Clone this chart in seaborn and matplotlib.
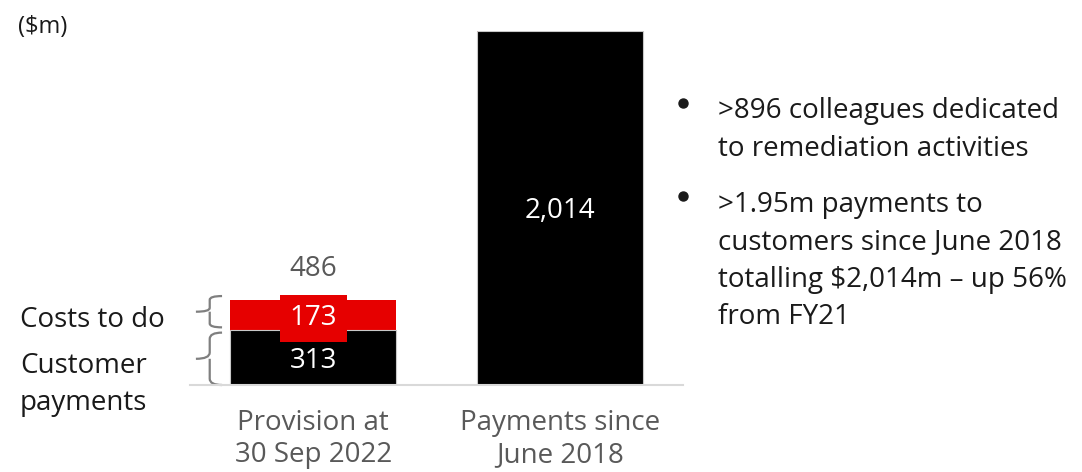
"""Remediation provision vs payments, stacked bar with commentary."""

import matplotlib.pyplot as plt
import matplotlib.transforms as mtransforms
from matplotlib.lines import Line2D
from matplotlib.path import Path
from matplotlib.patches import PathPatch
import pandas as pd
import seaborn as sns

categories = ["Provision at\n30 Sep 2022", "Payments since\nJune 2018"]
customer_payments = [313, 2014]
costs_to_do = [173, 0]
segment_names = ["Costs to do", "Customer", "payments"]
unit_label = "($m)"
bullet_one = [">896 colleagues dedicated", "to remediation activities"]
bullet_two = [">1.95m payments to", "customers since June 2018",
              "totalling $2,014m \u2013 up 56%", "from FY21"]

RED = "#e60000"
BLACK = "#000000"
GREY_TEXT = "#595959"
DARK_TEXT = "#1a1a1a"

W, H = 1082, 472

sns.set_theme(style="white")
plt.rcParams["font.family"] = ["Open Sans", "DejaVu Sans"]

df = pd.DataFrame({
    "category": categories,
    "bottom": customer_payments,
    "top": costs_to_do,
})
df["total"] = df["bottom"] + df["top"]

fig = plt.figure(figsize=(W / 100, H / 100), dpi=100)
ax = fig.add_axes([190 / W, 1 - 385 / H, 493 / W, 354 / H])

sns.barplot(data=df, x="category", y="total", color=RED, width=0.675,
            saturation=1, ax=ax, linewidth=0)
sns.barplot(data=df, x="category", y="bottom", color=BLACK, width=0.675,
            saturation=1, ax=ax, edgecolor="#c8c8c8", linewidth=0.8)

ax.set_xlim(-0.5, 1.5)
ax.set_ylim(0, df["total"].max())
ax.set_xlabel("")
ax.set_ylabel("")
ax.set_yticks([])
for side in ["top", "right", "left"]:
    ax.spines[side].set_visible(False)
ax.spines["bottom"].set_color("#d9d9d9")
ax.spines["bottom"].set_linewidth(1.5)
ax.tick_params(axis="x", length=0, pad=17, labelsize=20, labelcolor=GREY_TEXT)
for lbl in ax.get_xticklabels():
    lbl.set_linespacing(1.22)

# value labels
for i, row in df.iterrows():
    ax.text(i, row["bottom"] / 2, f"{row['bottom']:,}", ha="center",
            va="center_baseline", color="white", fontsize=20, zorder=4,
            bbox=dict(boxstyle="square,pad=0.3", fc=BLACK, ec="none"))
    if row["top"] > 0:
        ax.text(i, row["bottom"] + row["top"] / 2, f"{row['top']:,}", ha="center",
                va="center_baseline", color="white", fontsize=20, zorder=5,
                bbox=dict(boxstyle="square,pad=0.35", fc=RED, ec="none"))
        ax.annotate(f"{row['total']:,}", xy=(i, row["total"]), xytext=(0, 17),
                    textcoords="offset points", ha="center", va="baseline",
                    color=GREY_TEXT, fontsize=20)

# braces on the left
trans = mtransforms.blended_transform_factory(ax.transAxes, ax.transData)


def brace(y0, y1, x_end=0.065, x_body=0.04, x_tip=0.012):
    mid = (y0 + y1) / 2
    r = (y1 - y0) * 0.12
    verts = [
        (x_end, y1), (x_body, y1), (x_body, y1 - r),
        (x_body, mid + r), (x_body, mid), (x_tip, mid),
        (x_body, mid), (x_body, mid - r),
        (x_body, y0 + r), (x_body, y0), (x_end, y0),
    ]
    codes = [Path.MOVETO, Path.CURVE3, Path.CURVE3,
             Path.LINETO, Path.CURVE3, Path.CURVE3,
             Path.MOVETO, Path.CURVE3,
             Path.LINETO, Path.CURVE3, Path.CURVE3]
    ax.add_patch(PathPatch(Path(verts, codes), fc="none", ec="#7f7f7f", lw=1.6,
                           transform=trans, clip_on=False))


bottom0 = customer_payments[0]
total0 = bottom0 + costs_to_do[0]
brace(bottom0 + 15, total0 + 20)
brace(0, bottom0 - 15)


def put_lines(x, baselines, lines, **kw):
    for y, line in zip(baselines, lines):
        fig.text(x / W, 1 - y / H, line, ha="left", va="baseline", **kw)


put_lines(20, [327, 373, 410], segment_names, fontsize=20, color=DARK_TEXT)
put_lines(18, [33], [unit_label], fontsize=17, color=DARK_TEXT)

# bullet commentary
for dot_y, first, lines in [(103, 118, bullet_one), (196, 212, bullet_two)]:
    fig.add_artist(Line2D([683 / W], [1 - dot_y / H], marker="o", ms=6.5,
                          color=DARK_TEXT, transform=fig.transFigure))
    baselines = [first + 37.5 * k for k in range(len(lines))]
    put_lines(718, baselines, lines, fontsize=20, color=DARK_TEXT)

fig.savefig("out.png", dpi=100)
